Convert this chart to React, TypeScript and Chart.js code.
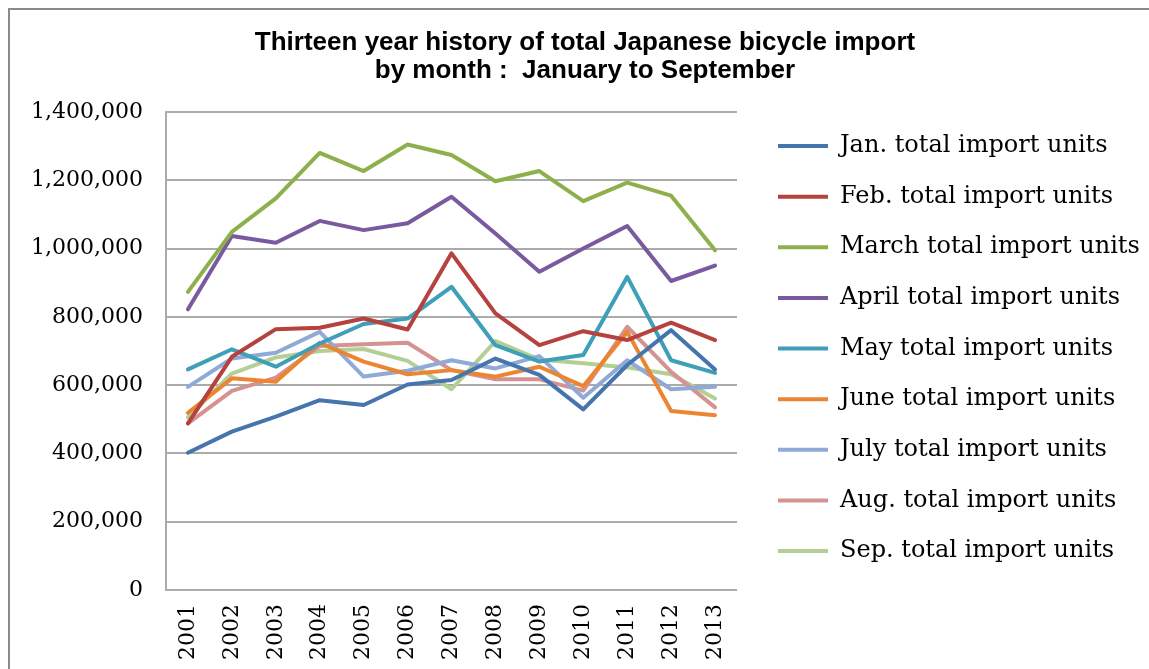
import React, { useEffect, useRef } from "react";
import { Chart, registerables } from "chart.js";

Chart.register(...registerables);

const years = ["2001", "2002", "2003", "2004", "2005", "2006", "2007", "2008", "2009", "2010", "2011", "2012", "2013"];

const janUnits = [402000, 464000, 508000, 556000, 542000, 602000, 615000, 678000, 630000, 529000, 659000, 761000, 646000];
const febUnits = [488000, 683000, 764000, 768000, 795000, 763000, 986000, 810000, 717000, 758000, 732000, 783000, 732000];
const marUnits = [873000, 1049000, 1147000, 1280000, 1227000, 1305000, 1274000, 1197000, 1227000, 1139000, 1193000, 1155000, 995000];
const aprUnits = [822000, 1037000, 1017000, 1081000, 1054000, 1074000, 1152000, 1044000, 932000, 1000000, 1066000, 905000, 950000];
const mayUnits = [646000, 705000, 654000, 722000, 779000, 795000, 888000, 717000, 669000, 688000, 917000, 673000, 636000];
const junUnits = [519000, 620000, 610000, 724000, 669000, 632000, 644000, 625000, 654000, 597000, 756000, 524000, 512000];
const julUnits = [595000, 678000, 695000, 756000, 625000, 642000, 673000, 649000, 685000, 563000, 673000, 588000, 595000];
const augUnits = [488000, 583000, 622000, 715000, 720000, 724000, 644000, 617000, 617000, 584000, 771000, 639000, 535000];
const sepUnits = [506000, 634000, 681000, 700000, 706000, 671000, 588000, 729000, 675000, 664000, 652000, 632000, 561000];

const seriesLabels = [
  "Jan. total import units",
  "Feb. total import units",
  "March total import units",
  "April total import units",
  "May total import units",
  "June total import units",
  "July total import units",
  "Aug. total import units",
  "Sep. total import units",
];
const seriesValues = [janUnits, febUnits, marUnits, aprUnits, mayUnits, junUnits, julUnits, augUnits, sepUnits];
const seriesColors = ["#4674ad", "#b5423e", "#8eb04c", "#7a5a9e", "#3f9fb8", "#ec8532", "#8faad6", "#d49392", "#b4cf93"];

const titleLines = ["Thirteen year history of total Japanese bicycle import", "by month :  January to September"];
const yTicksMax = 1400000;
const yTicksStep = 200000;

const W = 1149;
const H = 669;
const LEGEND_FONT = 24;
const LEGEND_PAD = 50.625 - LEGEND_FONT;
const LEGEND_GAP = 41; // distance from plot right edge to legend line start

export default function App() {
  const ref = useRef<HTMLCanvasElement | null>(null);

  useEffect(() => {
    if (!ref.current) return;
    const serif = "'DejaVu Serif', serif";
    const legendShift = {
      id: "legendShift",
      afterLayout(chart: any) {
        const lg = chart.legend;
        if (!lg) return;
        lg.left = chart.chartArea.right + LEGEND_GAP - LEGEND_PAD;
        lg.right = chart.width;
        lg.width = lg.right - lg.left;
      },
    };
    const chart = new Chart(ref.current, {
      type: "line",
      data: {
        labels: years,
        datasets: seriesValues.map((vals, i) => ({
          label: seriesLabels[i],
          data: vals,
          borderColor: seriesColors[i],
          backgroundColor: seriesColors[i],
          borderWidth: 4,
          pointRadius: 0,
          pointHoverRadius: 0,
          tension: 0,
          fill: false,
          borderCapStyle: "round",
          borderJoinStyle: "round",
          xAxisID: "x",
          yAxisID: "y",
        })),
      },
      options: {
        animation: false,
        responsive: false,
        devicePixelRatio: 1,
        layout: { padding: { left: 23, right: 2, top: 28, bottom: 0 } },
        plugins: {
          tooltip: { enabled: false },
          title: {
            display: true,
            text: titleLines,
            color: "#000",
            font: { family: "'Liberation Sans', Arial, sans-serif", size: 26, weight: "bold", lineHeight: 27.5 / 26 },
            padding: { top: 1.5, bottom: 27.5 },
          },
          legend: {
            position: "right",
            align: "center",
            labels: {
              boxWidth: 50,
              boxHeight: 4,
              padding: LEGEND_PAD,
              color: "#000",
              font: { family: serif, size: LEGEND_FONT },
              generateLabels: (c: any) =>
                c.data.datasets.map((ds: any, i: number) => ({
                  text: ds.label,
                  fillStyle: ds.borderColor,
                  strokeStyle: ds.borderColor,
                  lineWidth: 0,
                  hidden: false,
                  datasetIndex: i,
                  fontColor: "#000",
                })),
            },
          },
        },
        scales: {
          x: {
            type: "category",
            offset: true,
            grid: { display: false, drawTicks: false },
            border: { display: false },
            ticks: {
              autoSkip: false,
              minRotation: 90,
              maxRotation: 90,
              padding: 14,
              color: "#000",
              font: { family: serif, size: 22 },
            },
            afterFit: (s: any) => {
              s.height = 79;
            },
          },
          y: {
            type: "linear",
            position: "left",
            min: 0,
            max: yTicksMax,
            grid: { color: "#ababab", lineWidth: 2, drawTicks: false },
            border: { display: true, color: "#ababab", width: 2 },
            ticks: {
              stepSize: yTicksStep,
              padding: 23,
              color: "#000",
              font: { family: serif, size: 22 },
            },
            afterFit: (s: any) => {
              s.width = 143;
            },
          },
          gap: {
            type: "linear",
            position: "right",
            display: true,
            grid: { display: false, drawTicks: false },
            border: { display: false },
            ticks: { display: false },
            afterFit: (s: any) => {
              const lw = s.chart.legend ? s.chart.legend.width : 0;
              s.width = Math.max(0, s.chart.width - 2 - lw - 737);
            },
          },
        },
      },
      plugins: [legendShift],
    } as any);
    return () => chart.destroy();
  }, []);

  return (
    <div style={{ position: "fixed", left: 0, top: 0, width: W, height: H, overflow: "hidden", background: "#fff" }}>
      <canvas ref={ref} width={W} height={H} style={{ display: "block", width: W, height: H }} />
      <div
        style={{
          position: "absolute",
          left: 8,
          top: 8,
          width: W + 50,
          height: H + 50,
          borderLeft: "2px solid #8a8a8a",
          borderTop: "2px solid #8a8a8a",
          pointerEvents: "none",
        }}
      />
    </div>
  );
}
